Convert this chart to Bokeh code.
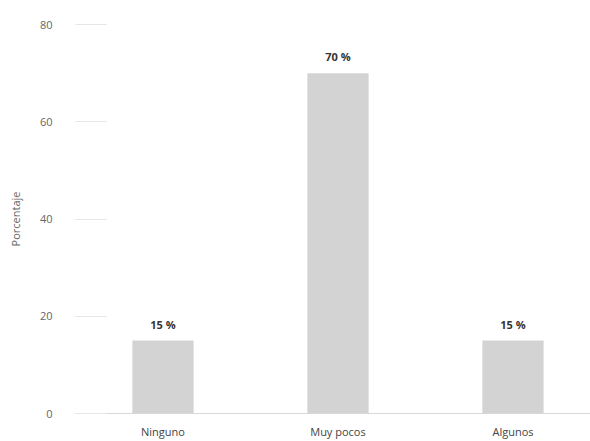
from bokeh.plotting import figure
from bokeh.models import ColumnDataSource, FixedTicker, Range1d, LabelSet
from bokeh.core.properties import value
from bokeh.embed import file_html
from bokeh.resources import INLINE

categories = ["Ninguno", "Muy pocos", "Algunos"]
values = [15, 70, 15]
labels = ["15 %", "70 %", "15 %"]
y_ticks = [0, 20, 40, 60, 80]

xpos = [i + 0.5 for i in range(len(categories))]
src = ColumnDataSource(dict(x=xpos, top=values, lab=labels, cat=categories))

FONT = "Open Sans"

p = figure(width=590, height=441, output_backend="svg", toolbar_location=None,
           x_range=Range1d(0, 2.943), y_range=Range1d(0, 80),
           min_border_left=75, min_border_right=0, min_border_top=24, min_border_bottom=0)
p.outline_line_color = None
p.grid.visible = False

p.vbar(x="x", top="top", width=0.35, bottom=0, source=src,
       fill_color="#d3d3d3", line_color=None)

p.add_layout(LabelSet(x="x", y="top", text="lab", source=src, y_offset=9,
                      text_align="center", text_baseline="bottom",
                      text_font=value(FONT), text_font_style="bold", text_font_size="11px",
                      text_color="#333333"))

xa = p.xaxis[0]
xa.ticker = FixedTicker(ticks=xpos)
xa.major_label_overrides = {x: c for x, c in zip(xpos, categories)}
xa.major_tick_line_color = None
xa.major_tick_in = 0
xa.major_tick_out = 0
xa.minor_tick_line_color = None
xa.minor_tick_out = 0
xa.axis_line_color = "#d8d8d8"
xa.major_label_text_font = FONT
xa.major_label_text_font_size = "11px"
xa.major_label_text_color = "#444444"
xa.major_label_standoff = 10

ya = p.yaxis[0]
ya.ticker = FixedTicker(ticks=y_ticks)
ya.axis_line_color = None
ya.minor_tick_line_color = None
ya.major_tick_in = 31
ya.major_tick_out = 0
ya.major_tick_line_color = "#e6e6e6"
ya.major_label_standoff = 23
ya.major_label_text_font = FONT
ya.major_label_text_font_size = "11px"
ya.major_label_text_color = "#666666"
ya.axis_label = "Porcentaje"
ya.axis_label_text_font = FONT
ya.axis_label_text_font_size = "11px"
ya.axis_label_text_font_style = "normal"
ya.axis_label_text_color = "#666666"
ya.axis_label_standoff = 14

open("out.html", "w").write(file_html(p, INLINE))
